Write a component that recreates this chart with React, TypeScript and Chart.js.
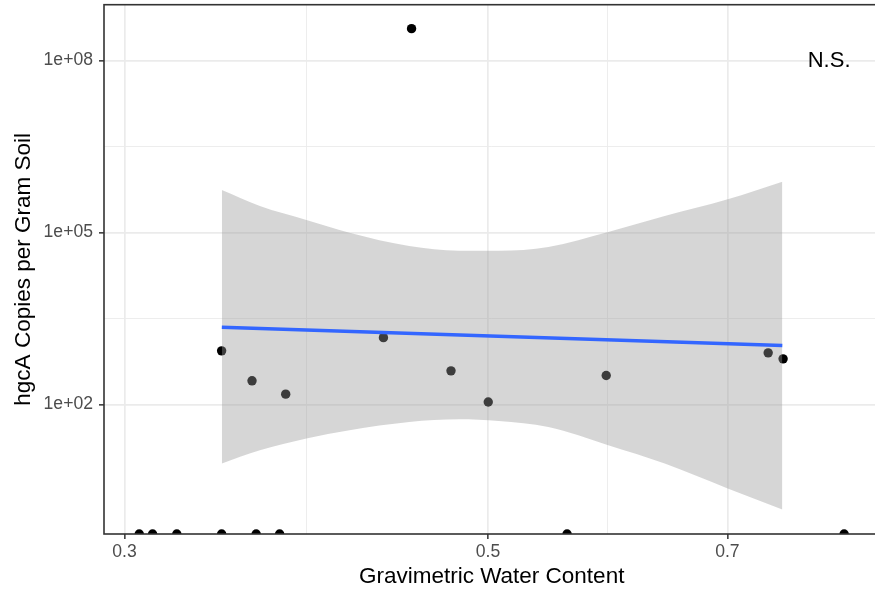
import React, { useEffect, useRef } from 'react';
import { Chart, registerables } from 'chart.js';

Chart.register(...registerables);

// ---- axis ranges and ticks ----
const X_MIN = 0.2915;
const X_MAX = 0.8666;
const Y_MIN = 0.548;
const Y_MAX = 9.42e8;
const X_TICKS = [0.3, 0.5, 0.7];
const X_TICK_LABELS = ['0.3', '0.5', '0.7'];
const Y_TICKS = [1e2, 1e5, 1e8];
const Y_TICK_LABELS = ['1e+02', '1e+05', '1e+08'];
const X_TITLE = 'Gravimetric Water Content';
const Y_TITLE = 'hgcA Copies per Gram Soil';

// ---- observed samples (non-zero counts) ----
const pointX = [0.3439, 0.3589, 0.3763, 0.4317, 0.4491, 0.4747, 0.5002, 0.5904, 0.7413, 0.757];
const pointY = [859, 258, 151, 1462, 3.6e8, 385, 110, 319, 793, 624];

// ---- samples with zero copies (drawn on the lower panel edge) ----
const zeroX = [0.3063, 0.3121, 0.3229, 0.3439, 0.361, 0.3731, 0.5588, 0.8248];

// ---- fitted line ----
const fitX = [0.344, 0.7562];
const fitY = [2228, 1062];

// ---- confidence band ----
const bandX = [0.344, 0.3629, 0.3874, 0.4116, 0.4476, 0.48, 0.5076, 0.5443, 0.5921, 0.641, 0.7003, 0.7562];
const bandUpper = [5.48e5, 2.89e5, 1.65e5, 9.9e4, 5.8e4, 4.8e4, 4.8e4, 5.6e4, 1.02e5, 1.94e5, 3.78e5, 7.65e5];
const bandLower = [9.3, 15.8, 25.3, 35.3, 49.2, 54.9, 51.3, 40.3, 19.4, 9.3, 3.42, 1.47];

// ---- annotation ----
const noteX = 0.8076;
const noteY = 1e8;
const noteText = 'N.S.';

const FONT = "'Liberation Sans', Arial, sans-serif";

function minorsOf(majors: number[]): number[] {
  const out: number[] = [];
  for (let i = 0; i < majors.length - 1; i++) out.push(Math.sqrt(majors[i] * majors[i + 1]));
  return out;
}
function majorIndex(majors: number[], v: number): number {
  return majors.findIndex((m) => Math.abs(m - v) / m < 1e-6);
}

const panelPlugin = {
  id: 'panelPlugin',
  afterDatasetsDraw(chart: any) {
    const { ctx } = chart;
    const xs = chart.scales.x;
    const ys = chart.scales.y;
    ctx.save();
    ctx.fillStyle = '#000000';
    ctx.font = `22px ${FONT}`;
    ctx.textAlign = 'center';
    ctx.textBaseline = 'middle';
    ctx.fillText(noteText, xs.getPixelForValue(noteX), ys.getPixelForValue(noteY));
    ctx.restore();
  },
  afterDraw(chart: any) {
    const { ctx, chartArea } = chart;
    ctx.save();
    ctx.strokeStyle = '#333333';
    ctx.lineWidth = 1.6;
    ctx.strokeRect(chartArea.left, chartArea.top, chartArea.right - chartArea.left, chartArea.bottom - chartArea.top);
    ctx.restore();
  },
};

export default function App() {
  const ref = useRef<HTMLCanvasElement | null>(null);

  useEffect(() => {
    if (!ref.current) return;
    const xAll = [...X_TICKS, ...minorsOf(X_TICKS)].sort((a, b) => a - b);
    const yAll = [...Y_TICKS, ...minorsOf(Y_TICKS)].sort((a, b) => a - b);

    const gridFor = (majors: number[]) => ({
      display: true,
      drawOnChartArea: true,
      drawTicks: true,
      tickLength: 5,
      color: '#EBEBEB',
      lineWidth: (c: any) => (c.tick && majorIndex(majors, c.tick.value) >= 0 ? 1.7 : 0.9),
      tickColor: (c: any) => (c.tick && majorIndex(majors, c.tick.value) >= 0 ? '#333333' : 'rgba(0,0,0,0)'),
      tickWidth: 1.5,
    });

    const chart = new Chart(ref.current, {
      type: 'line',
      data: {
        datasets: [
          {
            label: 'fit',
            data: fitX.map((x, i) => ({ x, y: fitY[i] })),
            borderColor: '#3366FF',
            borderWidth: 3.5,
            pointRadius: 0,
            fill: false,
            order: 0,
            clip: 0,
          },
          {
            label: 'upper',
            data: bandX.map((x, i) => ({ x, y: bandUpper[i] })),
            borderWidth: 0,
            borderColor: 'rgba(0,0,0,0)',
            backgroundColor: 'rgba(153,153,153,0.4)',
            pointRadius: 0,
            fill: '+1',
            cubicInterpolationMode: 'monotone',
            order: 1,
            clip: 0,
          },
          {
            label: 'lower',
            data: bandX.map((x, i) => ({ x, y: bandLower[i] })),
            borderWidth: 0,
            borderColor: 'rgba(0,0,0,0)',
            pointRadius: 0,
            fill: false,
            cubicInterpolationMode: 'monotone',
            order: 2,
            clip: 0,
          },
          {
            label: 'points',
            data: pointX.map((x, i) => ({ x, y: pointY[i] })),
            showLine: false,
            pointRadius: 4.7,
            pointBorderWidth: 0,
            pointBackgroundColor: '#000000',
            order: 3,
            clip: 0,
          },
          {
            label: 'zeros',
            data: zeroX.map((x) => ({ x, y: Y_MIN })),
            showLine: false,
            pointRadius: 4.7,
            pointBorderWidth: 0,
            pointBackgroundColor: '#000000',
            order: 4,
            clip: 0,
          },
        ],
      } as any,
      options: {
        animation: false,
        responsive: false,
        maintainAspectRatio: false,
        devicePixelRatio: 1,
        layout: { padding: { left: 0, top: 3, right: 1, bottom: 0 } },
        plugins: { legend: { display: false }, tooltip: { enabled: false } },
        scales: {
          x: {
            type: 'logarithmic',
            position: 'bottom',
            min: X_MIN,
            max: X_MAX,
            afterBuildTicks: (s: any) => {
              s.ticks = xAll.map((v) => ({ value: v }));
            },
            afterFit: (s: any) => {
              s.height = 62;
              s.paddingLeft = 0;
              s.paddingRight = 0;
              s.paddingTop = 0;
              s.paddingBottom = 0;
            },
            ticks: {
              autoSkip: false,
              maxRotation: 0,
              padding: 3,
              color: '#4D4D4D',
              font: { family: FONT, size: 17.6 },
              callback: (v: any) => {
                const i = majorIndex(X_TICKS, Number(v));
                return i >= 0 ? X_TICK_LABELS[i] : '';
              },
            },
            grid: gridFor(X_TICKS) as any,
            border: { display: false },
            title: {
              display: true,
              text: X_TITLE,
              color: '#000000',
              font: { family: FONT, size: 22.5 },
              padding: { top: 0, bottom: 5.3 },
            },
          },
          y: {
            type: 'logarithmic',
            position: 'left',
            min: Y_MIN,
            max: Y_MAX,
            afterBuildTicks: (s: any) => {
              s.ticks = yAll.map((v) => ({ value: v }));
            },
            afterFit: (s: any) => {
              s.width = 104;
              s.paddingLeft = 0;
              s.paddingRight = 0;
              s.paddingTop = 0;
              s.paddingBottom = 0;
            },
            ticks: {
              autoSkip: false,
              padding: 6,
              color: '#4D4D4D',
              font: { family: FONT, size: 17.6 },
              callback: (v: any) => {
                const i = majorIndex(Y_TICKS, Number(v));
                return i >= 0 ? Y_TICK_LABELS[i] : '';
              },
            },
            grid: gridFor(Y_TICKS) as any,
            border: { display: false },
            title: {
              display: true,
              text: Y_TITLE,
              color: '#000000',
              font: { family: FONT, size: 22.5 },
              padding: { top: 10.7, bottom: 0 },
            },
          },
        },
      } as any,
      plugins: [panelPlugin],
    });
    return () => chart.destroy();
  }, []);

  return (
    <div
      style={{
        position: 'fixed',
        left: 0,
        top: 0,
        width: 875,
        height: 596,
        overflow: 'hidden',
        background: '#ffffff',
      }}
    >
      <canvas ref={ref} width={884} height={596} style={{ display: 'block', width: 884, height: 596 }} />
    </div>
  );
}
